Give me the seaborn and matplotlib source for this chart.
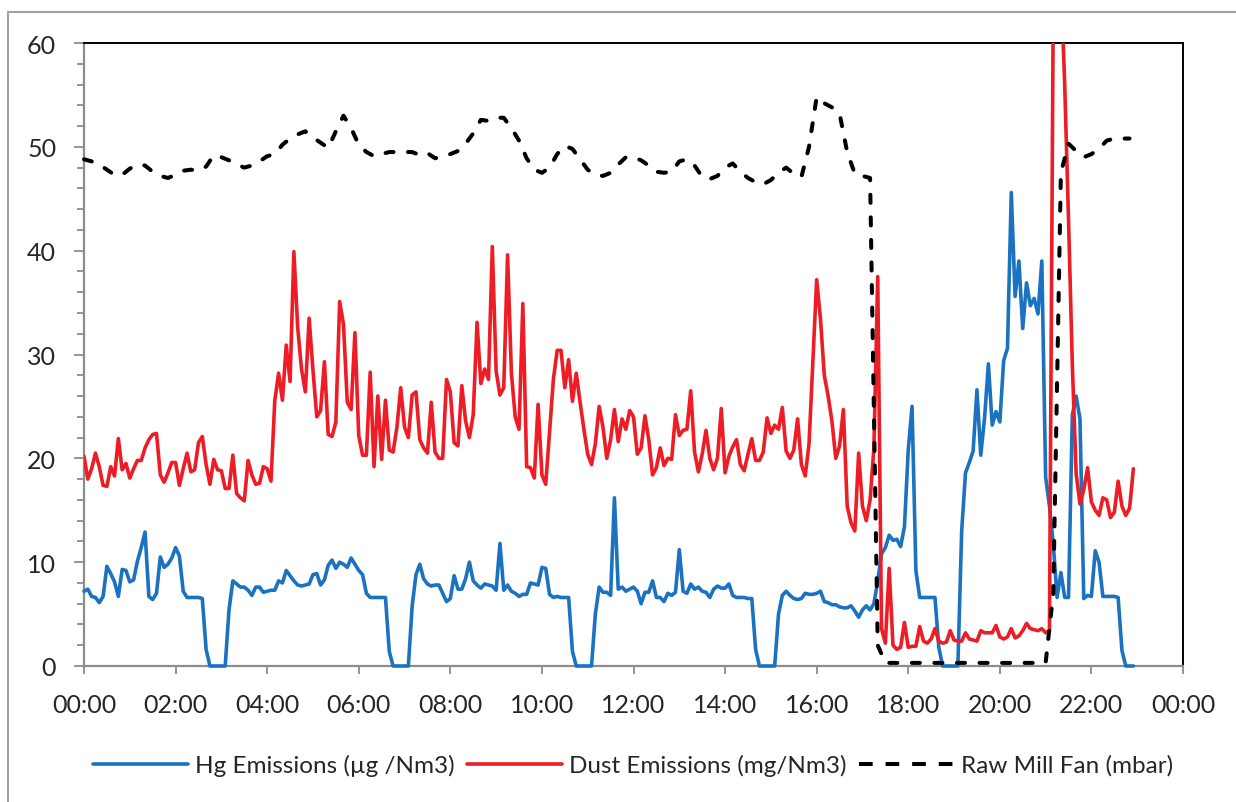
import numpy as np
import pandas as pd
import matplotlib
matplotlib.use("Agg")
import matplotlib.pyplot as plt
from matplotlib.lines import Line2D
from matplotlib.ticker import MultipleLocator, FixedLocator
import seaborn as sns

# ---------------- data (5-minute samples from 00:00) ----------------
hg_values = [
    7.2, 7.4, 6.7, 6.6, 6.1, 6.7, 9.6, 8.9, 8.1, 6.7, 9.3, 9.2, 8.1, 8.3, 10.1, 11.4, 12.9, 6.7, 6.4, 7.0,
    10.5, 9.5, 9.8, 10.4, 11.4, 10.6, 7.2, 6.6, 6.6, 6.6, 6.6, 6.5, 1.6, 0, 0, 0, 0, 0, 5.4, 8.2,
    7.9, 7.6, 7.6, 7.3, 6.8, 7.6, 7.6, 7.1, 7.2, 7.3, 7.3, 8.2, 8.0, 9.2, 8.7, 8.2, 7.8, 7.7, 7.8, 7.9,
    8.8, 8.9, 7.8, 8.3, 9.7, 10.2, 9.4, 10.0, 9.8, 9.5, 10.4, 9.8, 9.2, 8.8, 7.0, 6.6, 6.6, 6.6, 6.6, 6.6,
    1.4, 0, 0, 0, 0, 0, 5.8, 8.8, 9.8, 8.4, 7.9, 7.7, 7.8, 7.8, 7.0, 6.2, 6.5, 8.7, 7.4, 7.4,
    8.4, 10.0, 8.2, 7.8, 7.5, 7.9, 7.8, 7.7, 7.3, 11.8, 7.3, 7.8, 7.2, 7.0, 6.7, 6.9, 6.9, 8.0, 7.9, 7.8,
    9.5, 9.4, 6.9, 6.6, 6.7, 6.6, 6.6, 6.6, 1.4, 0, 0, 0, 0, 0, 5.0, 7.6, 7.1, 7.1, 6.8, 16.2,
    7.4, 7.6, 7.2, 7.4, 7.6, 7.2, 6.0, 7.1, 7.1, 8.2, 6.6, 6.6, 6.2, 7.0, 6.8, 7.1, 11.2, 7.2, 7.0, 7.9,
    7.4, 7.6, 7.2, 7.1, 6.6, 7.4, 7.7, 7.5, 7.5, 7.9, 6.8, 6.6, 6.6, 6.6, 6.5, 6.5, 1.6, 0, 0, 0,
    0, 0, 5.0, 6.8, 7.2, 6.8, 6.5, 6.4, 6.5, 7.0, 6.9, 6.9, 7.0, 7.2, 6.2, 6.1, 5.9, 5.9, 5.7, 5.6,
    5.6, 5.8, 5.3, 4.7, 5.4, 5.8, 5.4, 6.0, 8.2, 10.8, 11.4, 12.6, 12.1, 12.2, 11.5, 13.4, 20.8, 25.0, 9.2, 6.6,
    6.6, 6.6, 6.6, 6.6, 1.8, 0, 0, 0, 0, 0, 13.0, 18.6, 19.6, 20.7, 26.6, 20.3, 23.9, 29.1, 23.2, 24.5,
    23.5, 29.4, 30.6, 45.6, 35.6, 39.0, 32.5, 36.9, 34.7, 35.4, 33.9, 39.0, 18.2, 15.4, 11.8, 6.6, 9.0, 6.6, 6.6, 24.2,
    26.0, 23.8, 6.5, 6.8, 6.7, 11.1, 10.0, 6.7, 6.7, 6.7, 6.7, 6.6, 1.5, 0, 0, 0,
]

dust_values = [
    20.2, 18.0, 19.0, 20.5, 19.2, 17.4, 17.3, 19.2, 18.3, 21.9, 18.9, 19.5, 18.1, 19.0, 19.8, 19.8, 21.0, 21.8, 22.3, 22.4,
    18.4, 17.7, 18.6, 19.6, 19.6, 17.4, 19.0, 20.5, 18.7, 18.9, 21.5, 22.1, 19.4, 17.5, 19.9, 18.9, 18.8, 17.1, 17.1, 20.3,
    16.6, 16.2, 15.9, 19.8, 18.4, 17.5, 17.6, 19.2, 19.0, 17.8, 25.6, 28.2, 25.6, 30.9, 27.4, 39.9, 32.6, 28.6, 26.4, 33.5,
    28.5, 24.0, 24.6, 29.3, 22.3, 22.1, 23.5, 35.1, 32.9, 25.4, 24.7, 32.1, 22.2, 20.3, 20.3, 28.3, 19.2, 26.0, 19.9, 25.6,
    20.8, 20.6, 23.0, 26.8, 23.0, 22.0, 26.1, 26.4, 21.8, 21.0, 20.5, 25.4, 20.6, 20.0, 20.0, 27.6, 26.4, 21.5, 21.2, 27.0,
    23.6, 22.0, 24.2, 33.1, 27.2, 28.6, 27.6, 40.4, 28.4, 26.1, 26.8, 39.6, 28.2, 24.0, 22.8, 34.9, 19.2, 19.1, 18.1, 25.2,
    18.4, 17.5, 22.6, 27.6, 30.4, 30.4, 26.8, 29.5, 25.5, 28.2, 25.4, 22.8, 20.4, 19.4, 21.4, 25.0, 23.0, 20.0, 21.8, 24.7,
    21.6, 23.8, 22.8, 24.6, 24.0, 20.4, 21.0, 24.1, 21.8, 18.4, 19.1, 21.0, 19.3, 20.0, 19.9, 24.2, 22.2, 22.7, 22.8, 26.5,
    20.6, 18.7, 20.4, 22.7, 20.0, 18.9, 20.0, 24.8, 18.6, 20.2, 21.1, 21.8, 19.4, 18.8, 20.4, 21.9, 19.8, 19.8, 20.6, 23.9,
    22.4, 23.2, 22.8, 24.9, 20.7, 20.0, 20.8, 23.8, 19.4, 18.3, 21.4, 29.4, 37.2, 33.4, 28.0, 26.0, 23.6, 20.0, 21.2, 24.7,
    15.4, 13.8, 13.0, 20.5, 15.4, 14.0, 16.0, 21.0, 37.5, 3.6, 2.2, 9.4, 2.0, 1.6, 1.8, 4.2, 1.8, 1.9, 1.9, 3.8,
    2.4, 2.2, 2.6, 3.6, 2.4, 2.2, 2.3, 3.4, 2.5, 2.4, 2.4, 3.2, 2.6, 2.5, 2.4, 3.4, 3.2, 3.2, 3.2, 3.9,
    2.8, 2.6, 2.8, 3.6, 2.7, 2.9, 3.4, 4.1, 3.6, 3.5, 3.4, 3.6, 3.2, 3.4, 64.0, 90.0, 66.0, 56.0, 43.0, 29.0,
    18.5, 15.6, 17.0, 19.1, 15.8, 15.0, 14.5, 16.2, 16.0, 14.3, 14.8, 17.8, 15.4, 14.5, 15.2, 19.0,
]

# raw mill fan, 10-minute samples from 00:00
fan_values = [
    48.8, 48.6, 48.3, 47.8, 47.3, 47.3, 47.9, 48.3, 48.2, 47.6, 47.2, 47.0,
    47.3, 47.7, 47.8, 47.7, 48.1, 49.2, 49.0, 48.7, 48.3, 48.0, 48.2, 48.6,
    49.1, 49.3, 50.2, 50.8, 51.2, 51.5, 50.9, 50.4, 49.9, 51.5, 53.0, 51.8,
    50.2, 49.5, 49.1, 49.3, 49.5, 49.5, 49.5, 49.5, 49.2, 49.4, 48.9, 49.1,
    49.3, 49.6, 50.3, 51.3, 52.6, 52.5, 52.8, 52.8, 51.8, 50.6, 48.9, 47.8,
    47.5, 48.0, 49.3, 50.1, 49.8, 48.8, 47.8, 47.3, 47.2, 47.5, 48.3, 49.0,
    49.0, 48.7, 48.2, 47.6, 47.5, 47.6, 48.6, 48.8, 48.2, 47.1, 46.9, 47.2,
    48.0, 48.4, 47.6, 47.0, 46.6, 46.4, 46.8, 47.5, 48.0, 47.4, 47.1, 50.0,
    54.8, 54.2, 53.8, 53.2, 49.5, 47.4, 47.2, 47.0, 2.0, 0.3, 0.3, 0.3,
    0.3, 0.3, 0.3, 0.3, 0.3, 0.3, 0.3, 0.3, 0.3, 0.3, 0.3, 0.3,
    0.3, 0.3, 0.3, 0.3, 0.3, 0.3, 0.3, 7.0, 47.5, 50.3, 49.6, 49.0,
    49.3, 49.8, 50.6, 50.8, 50.8, 50.8,
]

x_tick_hours = list(range(0, 25, 2))
x_tick_labels = ["00:00", "02:00", "04:00", "06:00", "08:00", "10:00", "12:00",
                 "14:00", "16:00", "18:00", "20:00", "22:00", "00:00"]
series_labels = ["Hg Emissions (\u00b5g /Nm3)", "Dust Emissions (mg/Nm3)", "Raw Mill Fan (mbar)"]

df5 = pd.DataFrame({
    "hours": np.arange(len(hg_values)) * 5 / 60.0,
    "hg": hg_values,
    "dust": dust_values,
})
df10 = pd.DataFrame({
    "hours": np.arange(len(fan_values)) * 10 / 60.0,
    "fan": fan_values,
})

# ---------------- styling ----------------
sns.set_style("white")
plt.rcParams["font.family"] = ["Lato", "DejaVu Sans"]

W, H = 1236, 803
fig = plt.figure(figsize=(W / 100, H / 100), dpi=100)
ax = fig.add_axes([84 / W, 1 - 667 / H, (1183 - 84) / W, (667 - 44) / H])

BLUE = "#1B72C0"
RED = "#EE1C25"
GRAY = "#8C8C8C"
LW = 2.6
LW_FAN = 2.9

sns.lineplot(data=df5, x="hours", y="hg", ax=ax, color=BLUE, linewidth=LW,
             estimator=None, sort=False, label=series_labels[0], zorder=3, clip_on=False)
sns.lineplot(data=df5, x="hours", y="dust", ax=ax, color=RED, linewidth=LW,
             estimator=None, sort=False, label=series_labels[1], zorder=3.1)
sns.lineplot(data=df10, x="hours", y="fan", ax=ax, color="black", linewidth=LW_FAN,
             estimator=None, sort=False, label=series_labels[2], zorder=3.2, clip_on=False)
fan_line = ax.lines[-1]
fan_line.set_dashes([2.0, 3.6])
fan_line.set_dash_capstyle("round")

ax.set_xlim(0, 24)
ax.set_ylim(0, 60)
ax.set_xlabel("")
ax.set_ylabel("")

ax.xaxis.set_major_locator(FixedLocator(x_tick_hours))
ax.set_xticklabels(x_tick_labels)
ax.yaxis.set_major_locator(MultipleLocator(10))
ax.yaxis.set_minor_locator(MultipleLocator(2))

ax.tick_params(axis="x", which="major", direction="out", length=5.5, width=1.3,
               color=GRAY, labelsize=18, pad=14, bottom=True)
ax.tick_params(axis="y", which="major", direction="out", length=7, width=1.3,
               color=GRAY, labelsize=18, pad=13, left=True)
ax.tick_params(axis="y", which="minor", direction="out", length=5, width=1.3,
               color=GRAY, left=True)

for side in ["left", "bottom"]:
    ax.spines[side].set_color(GRAY)
    ax.spines[side].set_linewidth(1.6)
for side in ["top", "right"]:
    ax.spines[side].set_color("black")
    ax.spines[side].set_linewidth(1.4)
    ax.spines[side].set_visible(True)

ax.get_legend().remove()
handles = [
    Line2D([], [], color=BLUE, lw=LW),
    Line2D([], [], color=RED, lw=LW),
    Line2D([], [], color="black", lw=LW_FAN, dashes=[3.4, 3.2], dash_capstyle="butt"),
]
fig.legend(handles, series_labels, loc="center", bbox_to_anchor=(633 / W, 1 - 766 / H),
           ncol=3, frameon=False, fontsize=17.5, handlelength=3.9, handletextpad=0.3,
           columnspacing=0.5)

# outer chart-area frame (left and top edges visible)
fig.add_artist(Line2D([7.5 / W, 7.5 / W], [0, 1 - 12.5 / H], transform=fig.transFigure,
                      color="#A0A0A0", lw=1.5))
fig.add_artist(Line2D([7.5 / W, 1], [1 - 12.5 / H, 1 - 12.5 / H], transform=fig.transFigure,
                      color="#A0A0A0", lw=1.5))

fig.savefig("out.png", dpi=100, facecolor="white")
